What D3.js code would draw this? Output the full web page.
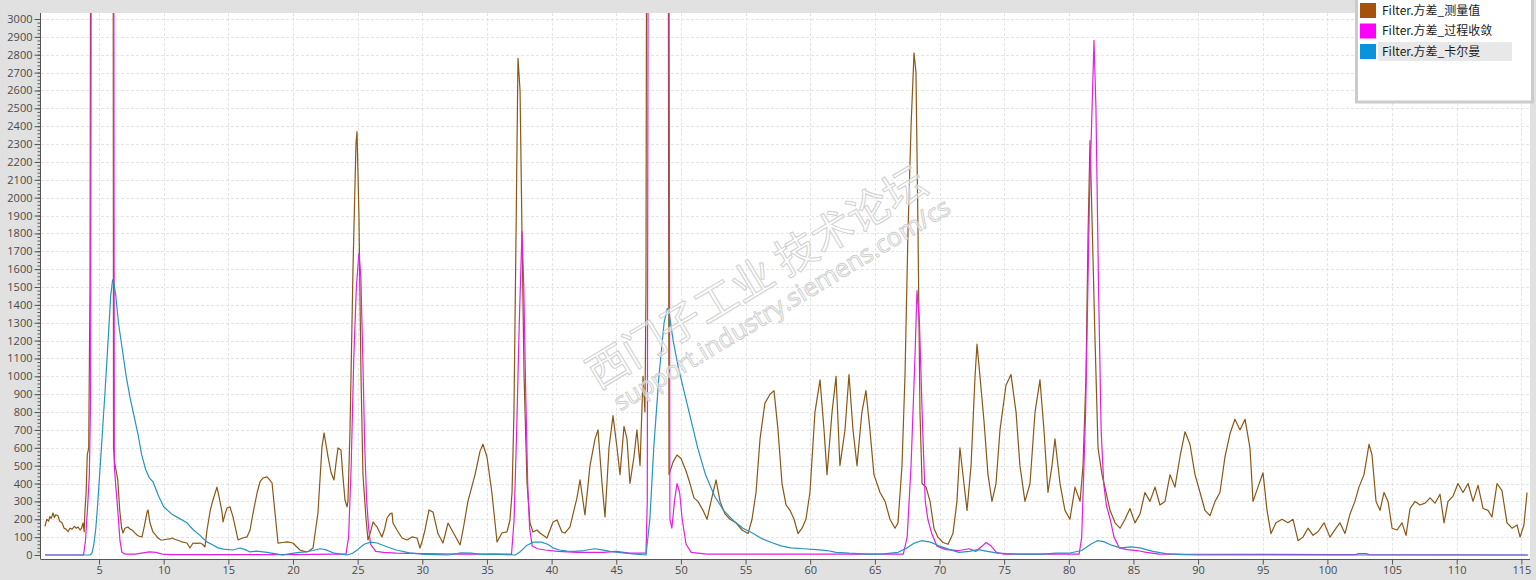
<!DOCTYPE html>
<html>
<head>
<meta charset="utf-8">
<script src="https://cdn.jsdelivr.net/npm/d3@7"></script>
<style>
  body { margin: 0; background: #e1e1e1; overflow: hidden; }
  svg { display: block; }
</style>
</head>
<body>
<div id="chart"></div>
<script>
// series names as shown in the legend
var seriesNames = ["Filter.方差_测量值", "Filter.方差_过程收敛", "Filter.方差_卡尔曼"];

// [time, value] pairs; 5000 = beyond the top of the chart
var measured = [
  [0.82,160],[0.95,200],[1.1,190],[1.2,215],[1.3,205],[1.44,235],[1.55,210],[1.65,225],[1.83,220],[1.95,190],
  [2.13,180],[2.3,150],[2.45,145],[2.6,130],[2.75,150],[2.91,145],[3.1,160],[3.25,150],[3.37,157],[3.53,140],
  [3.65,150],[3.76,180],[3.85,130],[3.91,250],[4.0,350],[4.09,560],[4.2,600],[4.3,1500],[4.38,5000],[6.08,5000],
  [6.12,600],[6.2,520],[6.3,480],[6.45,420],[6.6,250],[6.75,150],[6.85,123],[7.0,150],[7.23,157],[7.4,145],
  [7.55,140],[7.75,125],[7.94,112],[8.1,105],[8.32,101],[8.5,160],[8.71,240],[8.79,252],[8.94,179],[9.17,129],
  [9.4,110],[9.56,95],[9.75,85],[9.95,84],[10.2,88],[10.49,90],[10.64,95],[10.85,88],[11.03,84],[11.2,80],
  [11.42,73],[11.6,70],[11.8,67],[12.03,39],[12.27,67],[12.5,65],[12.81,67],[13.0,60],[13.19,45],[13.35,140],
  [13.6,250],[13.81,308],[14.12,380],[14.3,320],[14.51,240],[14.59,185],[14.75,230],[14.9,263],[15.13,269],[15.36,213],
  [15.55,150],[15.75,84],[16.1,95],[16.44,101],[16.68,140],[16.91,235],[17.22,347],[17.45,410],[17.68,431],[17.99,437],
  [18.2,420],[18.38,403],[18.61,235],[18.84,67],[19.2,70],[19.54,73],[20.0,67],[20.3,45],[20.54,28],[20.8,22],
  [21.08,17],[21.3,25],[21.55,39],[21.93,235],[22.24,604],[22.4,683],[22.55,620],[22.71,549],[22.95,460],[23.17,420],
  [23.35,530],[23.48,599],[23.71,588],[23.85,450],[24.02,308],[24.18,269],[24.25,300],[24.41,700],[24.64,1600],[24.87,2300],
  [24.95,2370],[25.1,1900],[25.26,1000],[25.41,450],[25.65,200],[25.8,84],[26.0,130],[26.19,185],[26.35,170],[26.5,157],
  [26.88,101],[27.1,150],[27.27,207],[27.5,230],[27.66,235],[27.73,179],[28.04,140],[28.43,95],[28.82,84],[29.2,101],
  [29.59,95],[29.82,39],[30.0,80],[30.21,140],[30.52,252],[30.83,240],[31.21,120],[31.6,67],[31.99,179],[32.37,129],
  [32.92,56],[33.15,140],[33.53,300],[34.08,450],[34.46,580],[34.69,620],[35.0,550],[35.38,350],[35.78,73],[36.16,123],
  [36.55,129],[36.78,196],[36.94,350],[37.09,800],[37.25,1800],[37.4,2780],[37.56,2600],[37.71,1800],[37.87,1000],[38.1,400],
  [38.33,180],[38.56,129],[38.87,140],[39.1,123],[39.64,95],[40.11,185],[40.42,196],[40.8,129],[41.03,123],[41.42,157],
  [41.96,320],[42.2,420],[42.58,224],[42.97,500],[43.36,650],[43.59,700],[43.9,400],[44.13,213],[44.44,600],[44.75,780],
  [45.06,600],[45.29,450],[45.6,720],[45.83,650],[46.06,400],[46.37,550],[46.6,700],[46.84,500],[47.07,1000],[47.22,800],
  [47.3,1500],[47.38,5000],[49.0,5000],[49.08,450],[49.39,520],[49.7,560],[50.01,540],[50.4,470],[50.7,400],[51.01,320],
  [51.32,300],[51.71,250],[52.02,200],[52.33,300],[52.72,420],[53.03,300],[53.41,230],[53.8,200],[54.26,180],[54.73,140],
  [55.19,120],[55.5,200],[55.81,350],[56.12,650],[56.5,850],[56.89,900],[57.2,920],[57.51,700],[57.82,400],[58.13,280],
  [58.44,250],[58.75,200],[59.06,120],[59.37,150],[59.67,200],[59.98,350],[60.37,800],[60.76,980],[61.07,700],[61.3,450],
  [61.69,800],[62.0,1000],[62.3,500],[62.69,700],[63.0,1010],[63.31,700],[63.62,500],[64.0,800],[64.31,920],[64.62,700],
  [64.93,450],[65.4,350],[65.79,300],[66.17,200],[66.56,150],[66.79,180],[67.1,500],[67.33,1000],[67.56,1800],[67.8,2400],
  [68.03,2810],[68.18,2700],[68.34,1800],[68.49,800],[68.65,400],[68.96,380],[69.27,300],[69.57,150],[69.88,100],[70.27,70],
  [70.66,60],[71.04,120],[71.35,300],[71.58,600],[71.89,400],[72.13,250],[72.44,500],[72.75,1000],[72.9,1180],[73.13,1000],
  [73.44,750],[73.75,450],[74.06,300],[74.37,400],[74.68,700],[75.14,950],[75.53,1010],[75.92,800],[76.22,500],[76.61,300],
  [77.0,400],[77.39,800],[77.77,980],[78.08,700],[78.39,350],[78.7,500],[78.93,650],[79.32,400],[79.7,250],[80.09,200],
  [80.48,380],[80.87,300],[81.1,500],[81.33,1000],[81.49,1800],[81.64,2320],[81.79,1900],[82.03,1200],[82.26,600],[82.57,450],
  [82.88,350],[83.19,250],[83.58,180],[83.96,150],[84.35,200],[84.73,260],[85.12,180],[85.51,230],[85.89,350],[86.28,300],
  [86.67,380],[87.05,280],[87.44,300],[87.83,450],[88.21,380],[88.6,550],[88.99,690],[89.37,620],[89.76,450],[90.15,350],
  [90.53,250],[90.92,220],[91.31,300],[91.69,350],[92.08,550],[92.47,680],[92.85,760],[93.24,700],[93.63,760],[94.01,600],
  [94.25,300],[94.63,380],[95.02,460],[95.33,250],[95.64,120],[96.02,180],[96.49,200],[96.95,180],[97.34,200],[97.73,80],
  [98.11,100],[98.5,150],[98.89,110],[99.27,130],[99.74,180],[100.2,100],[100.67,150],[100.97,180],[101.36,120],[101.75,230],
  [102.13,300],[102.44,380],[102.83,450],[103.22,620],[103.45,560],[103.76,300],[104.07,250],[104.38,350],[104.69,300],[105.0,150],
  [105.39,140],[105.77,180],[106.08,110],[106.39,260],[106.78,300],[107.16,280],[107.55,290],[107.94,320],[108.32,290],[108.71,340],
  [109.02,180],[109.33,300],[109.72,330],[110.1,400],[110.49,350],[110.88,400],[111.26,300],[111.65,390],[112.04,260],[112.42,250],
  [112.73,213],[113.12,400],[113.5,360],[113.89,180],[114.28,150],[114.67,168],[114.9,100],[115.2,168],[115.44,350]
];

var converged = [
  [0.82,0],[3.8,0],[3.95,80],[4.1,250],[4.25,450],[4.35,900],[4.42,5000],[6.12,5000],[6.18,500],[6.3,380],
  [6.45,250],[6.62,80],[6.77,15],[7.0,5],[7.8,5],[8.4,12],[8.9,18],[9.4,15],[9.9,5],[10.5,2],
  [20,2],[23,5],[24.1,5],[24.3,100],[24.5,500],[24.7,1100],[24.9,1500],[25.1,1690],[25.25,1550],[25.4,1100],
  [25.55,600],[25.7,300],[25.85,150],[26.0,60],[26.4,20],[27.0,15],[28.0,10],[30,8],[33,5],[36.9,5],
  [37.1,200],[37.3,700],[37.5,1300],[37.71,1810],[37.85,1500],[38.0,900],[38.15,400],[38.3,150],[38.5,50],[38.9,35],
  [39.5,28],[40.5,20],[42,15],[44,15],[45,20],[46,10],[47.3,10],[47.4,300],[47.5,5000],[49.05,5000],
  [49.15,200],[49.3,150],[49.5,300],[49.7,400],[49.9,350],[50.1,200],[50.4,60],[50.8,15],[52,5],[65,5],
  [67.2,5],[67.5,100],[67.8,500],[68.1,1100],[68.26,1480],[68.45,1300],[68.7,700],[68.9,300],[69.1,200],[69.4,120],
  [69.8,50],[70.5,30],[71.5,25],[72.3,35],[72.8,20],[73.3,50],[73.6,70],[74.0,50],[74.4,15],[75,5],
  [80.8,5],[81.0,100],[81.3,800],[81.6,2000],[81.95,2880],[82.1,2500],[82.3,1500],[82.5,700],[82.7,400],[82.9,280],
  [83.2,200],[83.5,100],[83.9,40],[84.5,30],[85.3,25],[86,15],[87,5],[100.5,2],[102.2,2],[102.4,8],
  [103.0,8],[103.2,2],[115.5,0]
];

var kalman = [
  [0.82,0],[4.3,0],[4.45,10],[4.6,60],[4.75,150],[4.9,290],[5.0,400],[5.2,620],[5.45,900],[5.7,1200],
  [5.9,1450],[6.05,1540],[6.15,1520],[6.3,1450],[6.5,1300],[6.8,1150],[7.1,1000],[7.4,880],[7.7,780],[8.0,680],
  [8.3,560],[8.6,480],[8.9,430],[9.17,410],[9.6,330],[10.0,270],[10.6,230],[11.2,205],[11.8,180],[12.3,140],
  [12.81,110],[13.3,75],[13.81,56],[14.2,40],[14.6,33],[15.36,28],[15.9,39],[16.3,30],[16.68,17],[17.2,22],
  [18.0,15],[18.8,5],[19.2,0],[19.8,8],[20.5,15],[21.0,18],[21.55,25],[22.1,35],[22.5,30],[23.2,10],
  [24.2,0],[24.6,10],[25.0,30],[25.5,60],[26.0,72],[26.5,67],[27.3,45],[28.0,28],[29.0,12],[30.0,5],
  [31.0,2],[32.0,0],[33.0,12],[33.8,10],[34.5,3],[35.5,5],[36.5,2],[37.2,0],[37.6,20],[38.1,55],
  [38.6,72],[39.2,72],[39.7,60],[40.1,40],[40.6,28],[41.2,22],[41.8,20],[42.5,25],[43.3,35],[43.8,30],
  [44.5,20],[45.5,12],[46.5,5],[47.3,0],[47.6,200],[47.9,600],[48.3,1000],[48.7,1300],[48.95,1380],[49.1,1350],
  [49.4,1200],[49.8,1050],[50.2,930],[50.7,780],[51.3,600],[51.9,450],[52.6,330],[53.3,250],[54.1,190],[54.8,150],
  [55.6,120],[56.3,90],[57.0,70],[57.8,50],[58.5,40],[59.5,35],[60.5,30],[61.3,25],[62.0,15],[63.0,10],
  [64.5,5],[65.5,5],[66.8,15],[67.5,40],[68.0,65],[68.6,80],[69.3,72],[70.0,50],[70.8,30],[71.5,15],
  [72.3,20],[73.0,30],[73.6,22],[74.5,10],[76.0,5],[78.0,5],[79.0,10],[80.0,10],[81.0,25],[81.7,60],
  [82.2,80],[82.7,75],[83.3,55],[84.0,40],[84.8,45],[85.5,40],[86.5,20],[87.5,8],[89.0,2],[90.0,0],
  [115.5,0]
];

var xTicks = [5, 10, 15, 20, 25, 30, 35, 40, 45, 50, 55, 60, 65, 70, 75, 80, 85, 90, 95, 100, 105, 110, 115];
var yTicks = d3.range(0, 3001, 100);
var yMinor = d3.range(0, 3001, 20);
var colors = ["#8a5716", "#e21fe2", "#2594bf"];
var swatch = ["#a5520c", "#ff00ff", "#0a93dc"];

var W = 1536, H = 580;
var plot = { left: 41, right: 1530, top: 13, bottom: 559 };

var svg = d3.select("#chart").append("svg")
    .attr("width", W)
    .attr("height", H);

svg.append("rect")
    .attr("width", W).attr("height", H)
    .attr("fill", "#e1e1e1");

// white plotting area
svg.append("rect")
    .attr("x", plot.left).attr("y", plot.top)
    .attr("width", plot.right - plot.left)
    .attr("height", plot.bottom - plot.top)
    .attr("fill", "#ffffff");

var x = d3.scaleLinear().domain([0, 116]).range([34.4, 34.4 + 116 * 12.93]);
var y = d3.scaleLinear().domain([0, 3000]).range([555, 19]);

// dashed grid
var grid = svg.append("g").attr("stroke", "#e4e4e4").attr("stroke-dasharray", "3,2");
grid.selectAll("line.h").data(yTicks.slice(1))
    .enter().append("line")
    .attr("x1", plot.left).attr("x2", plot.right)
    .attr("y1", d => Math.round(y(d)) + 0.5).attr("y2", d => Math.round(y(d)) + 0.5);
grid.selectAll("line.v").data(xTicks)
    .enter().append("line")
    .attr("y1", plot.top).attr("y2", plot.bottom)
    .attr("x1", d => Math.round(x(d)) + 0.5).attr("x2", d => Math.round(x(d)) + 0.5);

svg.append("clipPath").attr("id", "clip")
    .append("rect")
    .attr("x", plot.left).attr("y", plot.top)
    .attr("width", plot.right - plot.left)
    .attr("height", plot.bottom - plot.top);

var line = d3.line()
    .x(d => x(d[0]))
    .y(d => y(d[1]));

var lines = svg.append("g").attr("clip-path", "url(#clip)");
[measured, converged, kalman].forEach(function(s, i) {
    lines.append("path")
        .datum(s)
        .attr("d", line)
        .attr("fill", "none")
        .attr("stroke", colors[i])
        .attr("stroke-width", 1.2)
        .attr("stroke-linejoin", "round");
});

// watermark of the forum
var wm = svg.append("g")
    .attr("transform", "translate(598,390) rotate(-31)")
    .style("pointer-events", "none");
wm.append("text")
    .attr("x", 0).attr("y", 0)
    .style("font-family", "'Noto Sans CJK SC', sans-serif")
    .style("font-size", "42px")
    .attr("fill", "#ffffff").attr("fill-opacity", 0.55)
    .attr("stroke", "#cfcfcf").attr("stroke-width", 1)
    .text("西门子工业  技术论坛");
wm.append("text")
    .attr("x", 8).attr("y", 30)
    .style("font-family", "'Open Sans', sans-serif")
    .style("font-size", "25px")
    .attr("fill", "#ffffff").attr("fill-opacity", 0.55)
    .attr("stroke", "#cfcfcf").attr("stroke-width", 1)
    .text("support.industry.siemens.com/cs");

// axes
var yAxis = svg.append("g")
    .attr("transform", "translate(" + (plot.left - 0.5) + ",0)")
    .call(d3.axisLeft(y).tickValues(yTicks).tickSize(6).tickPadding(2).tickFormat(d3.format("d")));
svg.append("g")
    .attr("transform", "translate(" + (plot.left - 0.5) + ",0)")
    .call(d3.axisLeft(y).tickValues(yMinor).tickSize(3).tickFormat(""))
    .select(".domain").remove();

var xAxis = svg.append("g")
    .attr("transform", "translate(0," + (plot.bottom + 0.5) + ")")
    .call(d3.axisBottom(x).tickValues(xTicks).tickSize(5).tickPadding(2));
xAxis.select(".domain").attr("d", "M" + plot.left + ",0H" + plot.right);

svg.selectAll(".tick text")
    .style("font-family", "'Open Sans', sans-serif")
    .style("font-size", "11px")
    .attr("fill", "#4a4a4a");
svg.selectAll(".domain, .tick line").attr("stroke", "#555555");
yAxis.select(".domain").attr("d", "M0," + plot.top + "V" + (plot.bottom + 0.5));

// legend box
var lg = svg.append("g");
lg.append("rect")
    .attr("x", 1356.5).attr("y", -3)
    .attr("width", 176).attr("height", 105)
    .attr("fill", "#ffffff")
    .attr("stroke", "#cbcbcb").attr("stroke-width", 3);
lg.append("rect")
    .attr("x", 1378).attr("y", 42)
    .attr("width", 134).attr("height", 19)
    .attr("fill", "#e8e8e8");
seriesNames.forEach(function(n, i) {
    var yy = 3 + i * 20.5;
    lg.append("rect")
        .attr("x", 1360).attr("y", yy)
        .attr("width", 16).attr("height", 15)
        .attr("fill", swatch[i]);
    lg.append("text")
        .attr("x", 1382).attr("y", yy + 11.5)
        .style("font-family", "'Noto Sans CJK SC', sans-serif")
        .style("font-size", "12px")
        .attr("fill", "#1a1a1a")
        .text(n);
});
</script>
</body>
</html>
